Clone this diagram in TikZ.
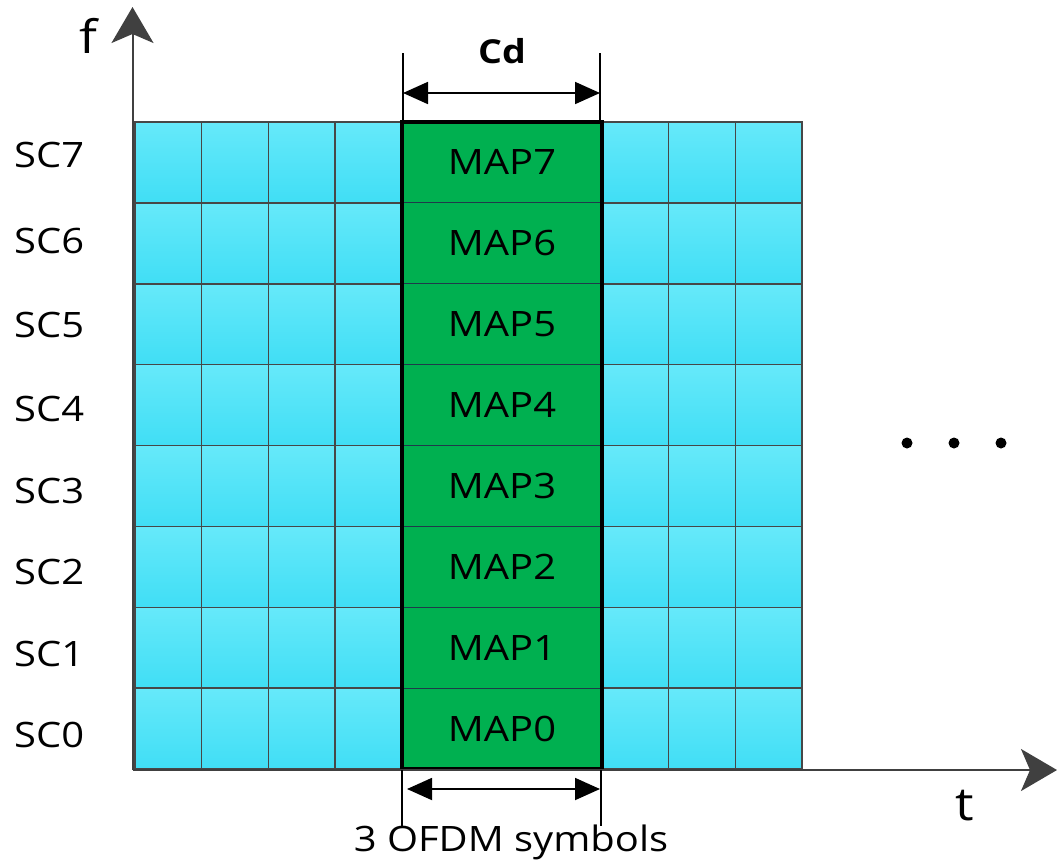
\documentclass[tikz,border=0pt]{standalone}
\usepackage{fontspec}
\setmainfont[FakeStretch=1.14]{Open Sans}
\usetikzlibrary{arrows.meta}
\definecolor{cellhi}{HTML}{66E9FA}
\definecolor{celllo}{HTML}{40DEF5}
\definecolor{mapgreen}{HTML}{00B050}
\definecolor{axisgray}{HTML}{404040}
\definecolor{gridgray}{HTML}{474747}
\definecolor{mapline}{HTML}{1F3A4A}
\tikzset{
  txt/.style={font=\fontsize{35}{40}\selectfont, inner sep=0pt},
  axislabel/.style={font=\fontsize{46}{50}\selectfont, inner sep=0pt},
  cell/.style={draw=gridgray, line width=1.5pt, top color=cellhi, bottom color=celllo},
  mapcell/.style={txt, draw=mapline, line width=1pt, fill=mapgreen,
                  minimum width=200pt, minimum height=80.875pt, outer sep=0pt},
  axisline/.style={draw=axisgray, line width=2pt,
                   -{Stealth[length=36pt, width=42pt, inset=9pt]}},
  dimline/.style={draw=black, line width=1.2pt},
  dimarrow/.style={draw=black, line width=1.8pt,
                   {Triangle[length=25pt, width=22pt]}-{Triangle[length=25pt, width=22pt]}},
}
\begin{document}
\begin{tikzpicture}[x=1pt, y=-1pt]
\useasboundingbox (0,0) rectangle (1057,860);

% axis end points
\coordinate (origin) at (132.5,770);
\coordinate (ftip) at (132.5,7);
\coordinate (ttip) at (1057,770);

% resource grid: 10 symbols by 8 subcarriers
\foreach \c in {0,1,2,3,7,8,9} {
  \foreach \r in {0,...,7} {
    \path[cell] ({135+\c*66.7},{122+\r*80.875}) rectangle ++(66.7,80.875);
  }
}

% mapped column
\foreach \r in {0,...,7} {
  \pgfmathtruncatemacro{\k}{7-\r}
  \node[mapcell] (map\k) at (502,{122+(\r+0.5)*80.875}) {MAP\k};
}
\draw[line width=4pt, line join=miter] (map7.north west) rectangle (map0.south east);

% subcarrier labels
\foreach \k/\y in {7/154.5, 6/240.5, 5/325, 4/409, 3/490.5, 2/572, 1/654, 0/734.5} {
  \node[txt, anchor=west] (sc\k) at (14,\y) {SC\k};
}

% axes
\draw[axisline] (origin) -- (ftip);
\draw[axisline] (origin) -- (ttip);
\node[axislabel] (flabel) at (88,36) {f};
\node[axislabel] (tlabel) at (965,806) {t};

% Cd dimension
\coordinate (cdl0) at (403,53);
\coordinate (cdl1) at (403,122);
\coordinate (cdr0) at (600,53);
\coordinate (cdr1) at (600,122);
\draw[dimline] (cdl0) -- (cdl1);
\draw[dimline] (cdr0) -- (cdr1);
\coordinate (cda) at (403,93);
\coordinate (cdb) at (600,93);
\draw[dimarrow] (cda) -- (cdb);
\node[txt, font=\fontsize{33}{40}\selectfont\bfseries] (cd) at (502,51) {Cd};

% symbol-span dimension
\coordinate (sl0) at (402,770);
\coordinate (sl1) at (402,826);
\coordinate (sr0) at (601,770);
\coordinate (sr1) at (601,826);
\draw[dimline] (sl0) -- (sl1);
\draw[dimline] (sr0) -- (sr1);
\coordinate (sa) at (407,789);
\coordinate (sb) at (600,789);
\draw[dimarrow] (sa) -- (sb);
\node[txt] (span) at (511,842) {3 OFDM symbols};

% continuation dots
\foreach \x [count=\i] in {907,954,1001} {
  \fill (\x,443) circle (5.5pt) coordinate (dot\i);
}
\end{tikzpicture}
\end{document}
